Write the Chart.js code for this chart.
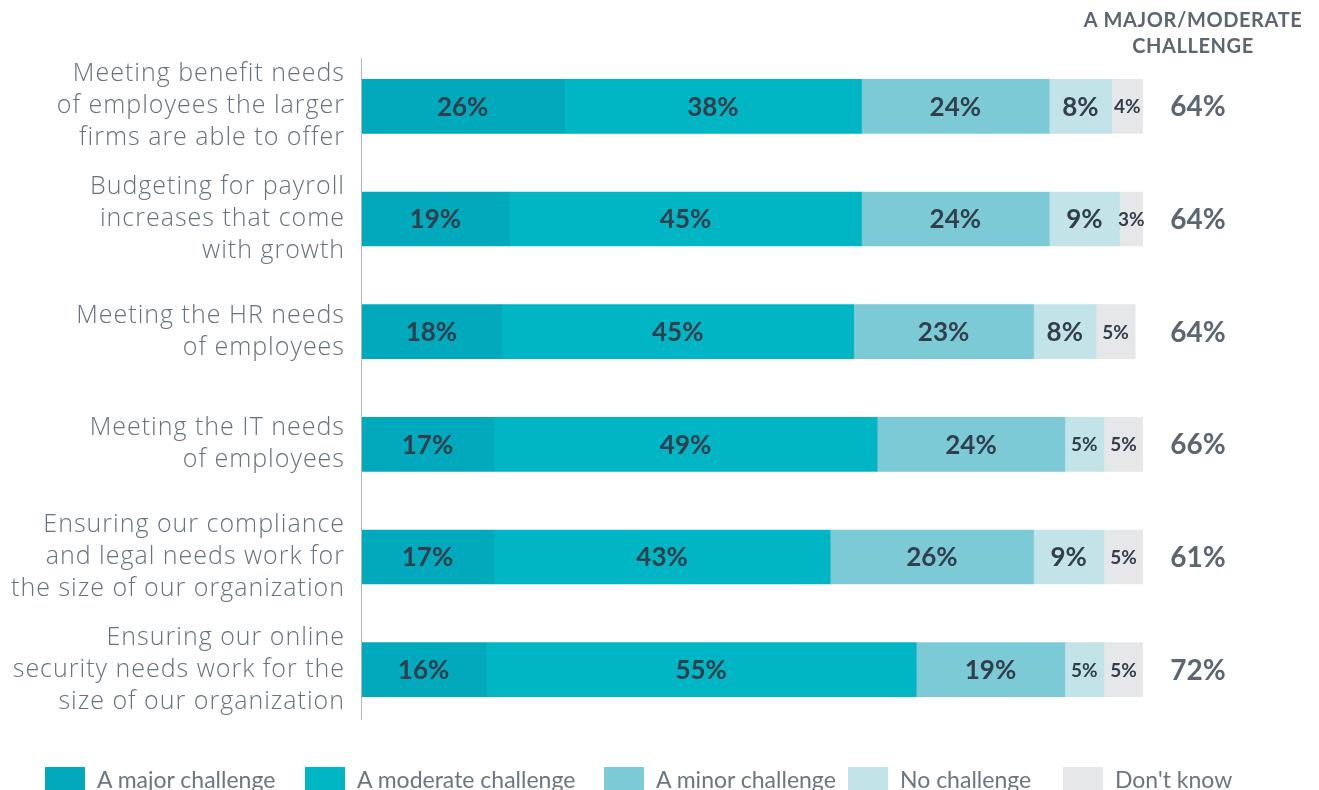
<!DOCTYPE html>
<html>
<head>
<meta charset="utf-8">
<script src="https://cdn.jsdelivr.net/npm/chart.js@4.4.1/dist/chart.umd.min.js"></script>
<style>
  html, body { margin: 0; padding: 0; background: #fff; overflow: hidden; }
  #wrap { position: relative; width: 1319px; height: 790px; }
  #legend { position: absolute; left: 0; top: 767px; width: 1319px; height: 24px; }
  #legend .item { position: absolute; top: 0; height: 24px; display: flex; align-items: center; white-space: nowrap;
                  font: 23px Lato, "Open Sans", sans-serif; color: #6b7680; }
  #legend .box { width: 40px; height: 24px; margin-right: 12px; }
</style>
</head>
<body>
<div id="wrap"><canvas id="challenges"></canvas><div id="legend"></div></div>
<script>
// Survey data (percent of respondents)
const categories = [
    ['Meeting benefit needs', 'of employees the larger', 'firms are able to offer'],
    ['Budgeting for payroll', 'increases that come', 'with growth'],
    ['Meeting the HR needs', 'of employees'],
    ['Meeting the IT needs', 'of employees'],
    ['Ensuring our compliance', 'and legal needs work for', 'the size of our organization'],
    ['Ensuring our online', 'security needs work for the', 'size of our organization']
];
const seriesNames = ['A major challenge', 'A moderate challenge', 'A minor challenge', 'No challenge', "Don't know"];
const majorVals = [26, 19, 18, 17, 17, 16];
const moderateVals = [38, 45, 45, 49, 43, 55];
const minorVals = [24, 24, 23, 24, 26, 19];
const noneVals = [8, 9, 8, 5, 9, 5];
const dontKnowVals = [4, 3, 5, 5, 5, 5];
const majorModerateTotals = [64, 64, 64, 66, 61, 72];
const totalsHeader = ['A MAJOR/MODERATE', 'CHALLENGE'];

const colors = ['#00a9bb', '#00b6c4', '#7ccad5', '#c2e3e8', '#e6e7e9'];
const legendLefts = [45, 305, 604, 848, 1063];
const fontFamily = 'Lato, "Open Sans", sans-serif';

// wider tracking for the category labels (scales are drawn before datasets)
const trackingPlugin = {
    id: 'tracking',
    beforeDraw: function(chart) { chart.ctx.letterSpacing = '1px'; },
    beforeDatasetsDraw: function(chart) { chart.ctx.letterSpacing = '0px'; }
};

// draws the % inside each segment, the totals column and its header
const labelsPlugin = {
    id: 'segmentLabels',
    afterDatasetsDraw: function(chart) {
        const ctx = chart.ctx;
        const area = chart.chartArea;
        const yScale = chart.scales.y;
        ctx.save();

        // vertical axis line, a bit shorter than the plot area
        ctx.strokeStyle = '#b3b3b3';
        ctx.lineWidth = 1;
        ctx.beginPath();
        ctx.moveTo(area.left + 0.5, yScale.getPixelForValue(0) - 48);
        ctx.lineTo(area.left + 0.5, yScale.getPixelForValue(categories.length - 1) + 50);
        ctx.stroke();

        ctx.textAlign = 'center';
        ctx.textBaseline = 'middle';
        chart.data.datasets.forEach(function(ds, di) {
            const meta = chart.getDatasetMeta(di);
            meta.data.forEach(function(bar, i) {
                const v = ds.data[i];
                const small = v <= 5;
                ctx.font = 'bold ' + (small ? 19 : 26) + 'px ' + fontFamily;
                ctx.fillStyle = '#333e4c';
                const x = (bar.x + bar.base) / 2;
                ctx.fillText(v + '%', x, bar.y + 1);
            });
        });

        const totX = area.right + 55;
        ctx.fillStyle = '#5b6670';
        ctx.font = 'bold 28px ' + fontFamily;
        majorModerateTotals.forEach(function(t, i) {
            ctx.fillText(t + '%', totX, yScale.getPixelForValue(i) + 1);
        });

        ctx.font = 'bold 20px ' + fontFamily;
        ctx.letterSpacing = '0.6px';
        totalsHeader.forEach(function(line, i) {
            ctx.fillText(line, totX - 5, 21 + i * 26);
        });
        ctx.restore();
    }
};

// html legend so it can span the full page width
const htmlLegend = {
    id: 'htmlLegend',
    afterUpdate: function(chart) {
        const box = document.getElementById('legend');
        box.innerHTML = '';
        chart.data.datasets.forEach(function(ds, i) {
            const item = document.createElement('div');
            item.className = 'item';
            item.style.left = legendLefts[i] + 'px';
            const sw = document.createElement('span');
            sw.className = 'box';
            sw.style.background = ds.backgroundColor;
            item.appendChild(sw);
            item.appendChild(document.createTextNode(ds.label));
            box.appendChild(item);
        });
    }
};

const ctx = document.getElementById('challenges');
const valueSets = [majorVals, moderateVals, minorVals, noneVals, dontKnowVals];

new Chart(ctx, {
    type: 'bar',
    data: {
        labels: categories,
        datasets: valueSets.map(function(vals, i) {
            return {
                label: seriesNames[i],
                data: vals,
                backgroundColor: colors[i],
                borderWidth: 0,
                barThickness: 54
            };
        })
    },
    options: {
        indexAxis: 'y',
        responsive: true,
        maintainAspectRatio: false,
        animation: false,
        layout: {
            padding: { top: 50, right: 176, left: 0, bottom: 64 }
        },
        plugins: {
            tooltip: { enabled: false },
            legend: { display: false }
        },
        scales: {
            x: {
                stacked: true,
                min: 0,
                max: 100,
                display: false
            },
            y: {
                stacked: true,
                grid: { display: false, drawTicks: false },
                border: { display: false },
                ticks: {
                    padding: 16,
                    color: '#66727e',
                    font: { family: '"Open Sans", Lato, sans-serif', size: 25, weight: '300', lineHeight: 1.28 }
                },
                afterFit: function(scale) {
                    scale.width = 361;
                    scale.paddingTop = 0;
                    scale.paddingBottom = 0;
                }
            }
        }
    },
    plugins: [trackingPlugin, labelsPlugin, htmlLegend]
});
</script>
</body>
</html>
